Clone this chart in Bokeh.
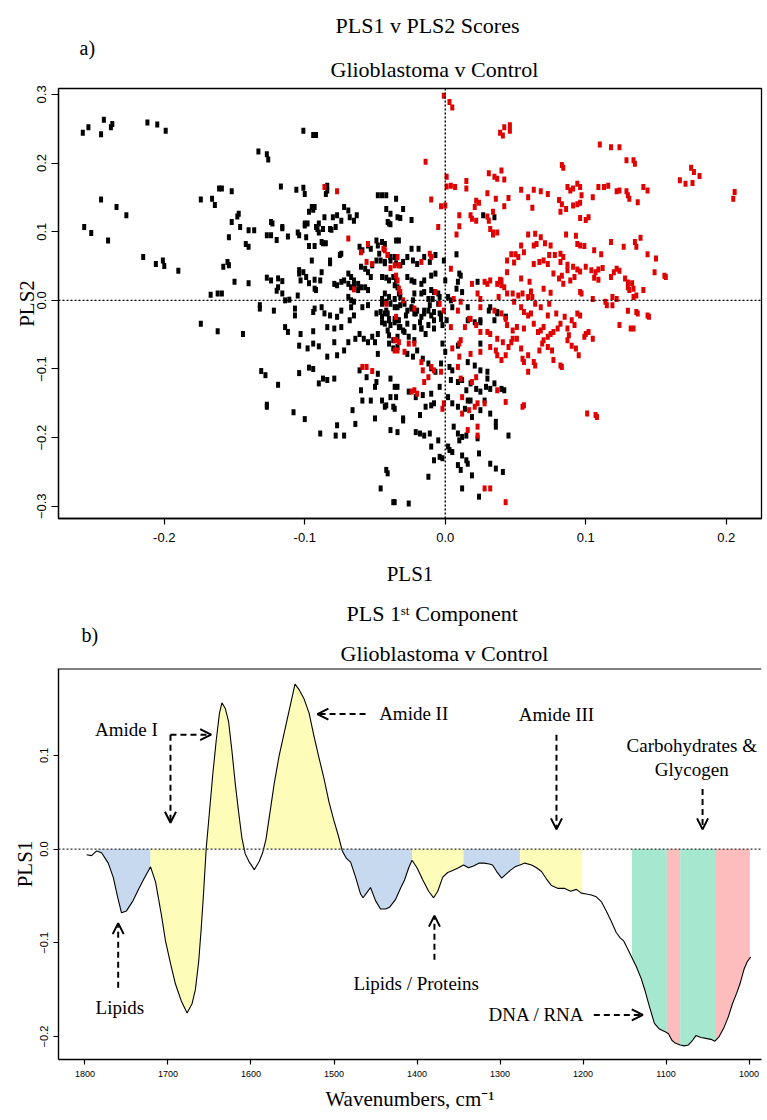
import math
import numpy as np
from bokeh.plotting import figure
from bokeh.layouts import column
from bokeh.models import Range1d, FixedTicker, Span, Label, Arrow, OpenHead, Title
from bokeh.embed import file_html
from bokeh.resources import INLINE

SERIF = "Liberation Serif"
SANS = "Liberation Sans"

# ---------------- panel a : PLS1 v PLS2 scores ----------------
glioblastoma_pts = [
    (-0.258,0.244),(-0.254,0.252),(-0.245,0.242),(-0.243,0.263),(-0.238,0.252),(-0.237,0.257),
    (-0.257,0.107),(-0.252,0.098),(-0.245,0.147),(-0.234,0.136),(-0.227,0.124),(-0.240,0.087),
    (-0.212,0.259),(-0.205,0.256),(-0.199,0.247),(-0.215,0.063),(-0.206,0.053),(-0.201,0.058),
    (-0.200,0.050),(-0.190,0.043),(-0.174,0.147),(-0.166,0.148),(-0.164,0.139),(-0.161,0.163),
    (-0.159,0.163),(-0.152,0.159),(-0.167,0.008),(-0.162,0.010),(-0.159,0.010),(-0.154,0.092),
    (-0.152,0.114),(-0.148,0.122),(-0.147,0.126),(-0.146,0.107),(-0.140,0.102),(-0.136,0.102),
    (-0.158,0.049),(-0.155,0.056),(-0.154,0.051),(-0.150,0.027),(-0.140,0.025),(-0.142,0.082),
    (-0.140,0.078),(-0.133,0.217),(-0.127,0.213),(-0.126,0.205),(-0.117,0.166),(-0.106,0.161),
    (-0.101,0.164),(-0.101,0.247),(-0.094,0.241),(-0.092,0.241),(-0.127,0.095),(-0.124,0.095),
    (-0.124,0.114),(-0.123,0.112),(-0.120,0.088),(-0.116,0.105),(-0.116,0.107),(-0.112,0.093),
    (-0.127,0.033),(-0.124,0.029),(-0.119,0.032),(-0.116,0.028),(-0.119,0.019),(-0.120,0.014),
    (-0.116,0.010),(-0.114,0.000),(-0.111,0.001),(-0.132,-0.007),(-0.105,0.099),(-0.104,0.095),
    (-0.100,0.109),(-0.100,0.155),(-0.100,0.112),(-0.099,0.092),(-0.098,0.112),(-0.097,0.079),
    (-0.097,0.129),(-0.095,0.136),(-0.094,0.132),(-0.093,0.136),(-0.093,0.079),(-0.092,0.107),
    (-0.091,0.104),(-0.090,0.112),(-0.090,0.099),(-0.088,0.085),(-0.087,0.083),(-0.085,0.083),
    (-0.086,0.121),(-0.085,0.155),(-0.084,0.167),(-0.084,0.160),(-0.104,0.044),(-0.104,0.039),
    (-0.103,0.029),(-0.101,0.041),(-0.099,0.034),(-0.097,0.025),(-0.095,0.058),(-0.093,0.017),
    (-0.092,0.015),(-0.093,0.030),(-0.089,0.029),(-0.088,0.041),(-0.107,-0.012),(-0.105,0.007),
    (-0.087,0.104),(-0.082,0.104),(-0.081,0.103),(-0.080,0.121),(-0.078,0.107),(-0.077,0.124),
    (-0.074,0.116),(-0.072,0.136),(-0.069,0.131),(-0.068,0.121),(-0.065,0.116),(-0.063,0.124),
    (-0.061,0.078),(-0.059,0.073),(-0.082,0.058),(-0.082,0.054),(-0.075,0.066),(-0.074,0.068),
    (-0.069,0.039),(-0.067,0.034),(-0.065,0.029),(-0.062,0.024),(-0.060,0.049),(-0.057,0.046),
    (-0.055,0.041),(-0.053,0.034),(-0.052,0.051),(-0.049,0.058),(-0.046,0.058),(-0.043,0.056),
    (-0.079,0.024),(-0.077,0.022),(-0.074,0.027),(-0.072,0.029),(-0.069,0.024),(-0.067,0.019),
    (-0.065,0.022),(-0.062,0.015),(-0.060,0.019),(-0.057,0.019),(-0.055,0.015),(-0.069,0.005),
    (-0.067,0.000),(-0.065,-0.002),(-0.048,0.153),(-0.045,0.153),(-0.042,0.133),(-0.041,0.114),
    (-0.040,0.112),(-0.039,0.126),(-0.034,0.121),(-0.035,0.087),(-0.033,0.087),(-0.049,0.087),
    (-0.045,0.085),(-0.048,0.080),(-0.055,0.080),(-0.053,0.075),(-0.047,0.068),(-0.043,0.054),
    (-0.039,0.063),(-0.037,0.034),(-0.035,0.029),(-0.034,0.019),(-0.033,0.010),(-0.032,0.005),
    (-0.042,0.153),(-0.035,0.148),(-0.030,0.133),(-0.032,0.120),(-0.024,0.117),(-0.039,0.111),
    (-0.043,0.082),(-0.019,0.075),(-0.024,0.075),(-0.015,0.063),(-0.011,0.056),(-0.023,0.058),
    (-0.027,0.063),(-0.030,0.056),(-0.032,0.051),(-0.020,0.053),(-0.035,0.054),(-0.039,0.058),
    (-0.036,0.063),(-0.041,0.066),(-0.007,0.066),(-0.001,0.058),(0.008,0.067),(0.010,0.039),
    (0.011,0.036),(0.009,0.027),(0.012,0.012),(0.008,0.017),(-0.045,0.034),(-0.042,0.033),
    (-0.040,0.029),(-0.036,0.022),(-0.027,0.034),(-0.024,0.029),(-0.022,0.027),
    (-0.017,0.024),(-0.015,0.029),(-0.010,0.036),(-0.007,0.039),(0.000,0.029),(-0.017,0.010),
    (-0.015,0.012),(-0.010,0.015),(-0.008,0.012),(-0.005,0.010),(-0.004,0.005),(-0.009,0.002),
    (-0.012,0.002),(-0.022,0.010),(-0.023,0.000),(-0.036,0.002),(-0.040,0.005),(-0.043,0.010),
    (-0.045,0.002),(-0.042,-0.002),(-0.039,-0.005),(-0.034,-0.010),(-0.029,-0.005),(-0.027,-0.015),
    (-0.024,-0.010),(-0.022,-0.019),(-0.020,-0.015),(-0.017,-0.024),(-0.015,-0.019),(-0.012,-0.015),
    (-0.010,-0.022),(-0.008,-0.029),(-0.004,-0.019),(-0.003,-0.027),(-0.002,-0.036),(0.001,-0.029),
    (0.004,0.000),(0.002,0.005),(0.005,-0.010),(0.016,-0.010),(0.023,0.027),(0.025,-0.029),
    (0.031,-0.015),(0.035,-0.029),(0.037,-0.019),(0.043,-0.024),(-0.045,-0.024),(-0.041,-0.019),
    (-0.036,-0.027),(-0.033,-0.029),(-0.032,-0.039),(-0.027,-0.034),(-0.022,-0.039),(-0.017,-0.041),
    (-0.012,-0.036),(-0.008,-0.041),(-0.039,-0.036),(-0.043,-0.034),(0.027,0.124),(0.035,0.121),
    (-0.174,-0.034),(-0.162,-0.045),(-0.144,-0.049),(-0.132,-0.012),(-0.122,-0.015),(-0.131,-0.103),
    (-0.128,-0.109),(-0.119,-0.123),(-0.127,-0.152),(-0.127,-0.155),(-0.108,-0.163),(-0.100,-0.173),
    (-0.104,-0.106),(-0.097,-0.098),(-0.094,-0.100),(-0.089,-0.194),(-0.078,-0.197),(-0.072,-0.197),
    (-0.077,-0.182),(-0.064,-0.180),(-0.050,-0.172),(-0.042,-0.247),(-0.041,-0.252),(-0.046,-0.274),
    (-0.037,-0.294),(-0.114,-0.039),(-0.112,-0.046),(-0.107,-0.022),(-0.104,-0.066),(-0.103,-0.049),
    (-0.098,-0.070),(-0.094,-0.045),(-0.094,-0.063),(-0.090,-0.067),(-0.087,-0.114),(-0.084,-0.116),
    (-0.079,-0.114),(-0.090,-0.121),(-0.084,-0.082),(-0.079,-0.061),(-0.077,-0.080),(-0.072,-0.073),
    (-0.069,-0.061),(-0.066,-0.160),(-0.060,-0.131),(-0.059,-0.146),(-0.053,-0.146),(-0.050,-0.126),
    (-0.049,-0.119),(-0.048,-0.078),(-0.045,-0.146),(-0.043,-0.155),(-0.040,-0.051),(-0.039,-0.114),
    (-0.037,-0.155),(-0.036,-0.126),(-0.061,-0.102),(-0.056,-0.112),(-0.055,-0.061),(-0.050,-0.061),
    (-0.052,-0.053),(-0.048,-0.049),(-0.061,-0.049),(-0.058,-0.056),(-0.064,-0.056),(-0.068,-0.029),
    (-0.074,-0.039),(-0.079,-0.041),(-0.084,-0.039),(-0.088,-0.010),(-0.093,-0.012),(-0.094,-0.017),
    (-0.086,-0.019),(-0.082,-0.022),(-0.077,-0.024),(-0.074,-0.015),(-0.067,-0.010),(-0.065,-0.022),
    (-0.059,-0.010),(-0.055,-0.007),(-0.049,-0.019),(-0.046,-0.017),(-0.040,-0.063),(-0.037,-0.070),
    (-0.034,-0.053),(-0.034,-0.029),(-0.040,-0.029),(-0.048,-0.107),(-0.039,-0.141),
    (-0.045,-0.005),(-0.042,-0.015),(-0.036,-0.010),(-0.032,-0.007),(-0.028,-0.022),(-0.024,-0.012),
    (-0.021,-0.019),(-0.018,-0.032),(-0.015,-0.015),(-0.011,-0.007),(-0.008,-0.017),(-0.005,-0.005),
    (-0.003,-0.022),(-0.017,-0.041),(-0.014,-0.049),(-0.022,-0.058),(-0.026,-0.053),(-0.029,-0.046),
    (-0.033,-0.039),(-0.036,-0.032),(-0.040,-0.027),(-0.043,-0.019),(-0.045,-0.032),(-0.041,-0.044),
    (-0.037,-0.058),(-0.034,-0.068),(-0.030,-0.044),(-0.027,-0.078),(-0.023,-0.082),(-0.020,-0.073),
    (-0.016,-0.085),(-0.012,-0.092),(-0.010,-0.099),(-0.007,-0.104),(-0.003,-0.092),(-0.002,-0.063),
    (0.000,-0.075),(0.003,-0.097),(0.005,-0.102),(0.009,-0.066),(0.016,-0.029),(0.021,-0.032),
    (0.025,-0.032),(0.032,-0.010),(0.037,-0.017),(0.043,-0.024),(0.025,-0.063),(0.016,-0.090),
    (0.021,-0.095),(0.025,-0.102),(0.030,-0.114),(0.030,-0.104),(0.035,-0.121),(0.040,-0.129),
    (0.042,-0.131),(0.004,-0.116),(0.009,-0.119),(0.012,-0.116),(0.015,-0.131),(0.018,-0.121),
    (0.022,-0.129),(0.025,-0.133),(0.029,-0.126),(0.032,-0.129),(0.028,-0.146),(0.018,-0.146),
    (0.016,-0.146),(0.014,-0.158),(0.009,-0.155),(0.005,-0.150),(0.002,-0.141),(-0.004,-0.126),
    (-0.010,-0.136),(-0.016,-0.138),(-0.021,-0.141),(-0.026,-0.133),(-0.034,-0.126),(-0.035,-0.141),
    (-0.042,-0.153),(-0.036,-0.158),(-0.030,-0.172),(-0.018,-0.167),(-0.014,-0.155),(-0.010,-0.153),
    (-0.008,-0.150),(-0.005,-0.204),(-0.010,-0.213),(-0.004,-0.228),(0.002,-0.213),(0.003,-0.218),
    (0.005,-0.221),(0.009,-0.194),(0.010,-0.204),(0.012,-0.199),(0.015,-0.197),(0.006,-0.184),
    (0.019,-0.170),(0.023,-0.201),(0.025,-0.160),(0.032,-0.165),(0.036,-0.177),(0.036,-0.184),
    (0.045,-0.197),(0.012,-0.226),(0.015,-0.233),(0.016,-0.238),(0.024,-0.223),(0.032,-0.238),
    (0.036,-0.245),(0.041,-0.250),(0.019,-0.255),(0.012,-0.274),(0.009,-0.240),(0.011,-0.247),
    (0.024,-0.286),(-0.012,-0.257),(-0.008,-0.233),(-0.002,-0.230),(-0.021,-0.192),(-0.018,-0.194),
    (-0.015,-0.197),(-0.011,-0.194),(-0.039,-0.189),(-0.034,-0.192),(-0.030,-0.175),(-0.036,-0.294),
    (-0.026,-0.296),
]

control_pts = [
    (-0.001,0.298),(0.003,0.289),(0.005,0.281),(-0.014,0.202),(0.039,0.244),(0.042,0.252),
    (0.041,0.240),(0.046,0.255),(0.046,0.247),(0.110,0.227),(0.118,0.223),(0.124,0.223),
    (0.129,0.204),(0.134,0.204),(0.135,0.199),(0.083,0.197),(0.084,0.193),(0.167,0.175),
    (0.171,0.170),(0.176,0.171),(0.175,0.193),(0.177,0.187),(0.181,0.181),(0.206,0.158),
    (0.205,0.148),(0.031,0.185),(0.035,0.180),(0.037,0.177),(0.040,0.189),(0.042,0.176),
    (0.015,0.174),(0.015,0.163),(0.001,0.180),(0.001,0.166),(0.004,0.167),(0.007,0.165),
    (-0.010,0.147),(-0.003,0.137),(0.000,0.138),(0.010,0.124),(0.010,0.108),(0.008,0.096),
    (-0.005,0.107),(0.030,0.156),(0.036,0.148),(0.045,0.149),(0.042,0.137),(0.022,0.145),
    (0.024,0.142),(0.021,0.136),(0.018,0.124),(0.019,0.119),(0.022,0.116),(0.030,0.122),
    (0.031,0.116),(0.034,0.129),(0.032,0.104),(0.034,0.099),(0.037,0.099),(0.034,0.096),
    (0.054,0.161),(0.059,0.150),(0.063,0.161),(0.068,0.159),(0.073,0.155),(0.062,0.135),
    (0.081,0.146),(0.083,0.140),(0.082,0.129),(0.086,0.133),(0.087,0.165),(0.089,0.160),
    (0.091,0.163),(0.094,0.170),(0.096,0.165),(0.097,0.153),(0.091,0.138),(0.094,0.140),
    (0.096,0.142),(0.096,0.120),(0.100,0.117),(0.102,0.121),(0.105,0.150),(0.109,0.165),
    (0.113,0.165),(0.116,0.167),(0.122,0.159),(0.124,0.160),(0.129,0.159),(0.130,0.153),
    (0.131,0.148),(0.137,0.143),(0.141,0.165),(0.144,0.160),
    (0.059,0.096),(0.064,0.097),(0.068,0.092),(0.054,0.080),(0.065,0.082),(0.063,0.080),
    (0.071,0.083),(0.075,0.080),(0.078,0.066),(0.082,0.068),(0.084,0.063),(0.086,0.096),
    (0.093,0.094),(0.094,0.082),(0.096,0.080),(0.099,0.079),(0.106,0.073),(0.111,0.067),
    (0.118,0.085),(0.127,0.078),(0.135,0.085),(0.139,0.091),(0.136,0.078),(0.144,0.067),
    (0.150,0.061),(0.149,0.041),(0.156,0.036),(0.157,0.034),(0.044,0.058),(0.047,0.067),
    (0.050,0.067),(0.049,0.055),(0.052,0.063),(0.056,0.070),(0.063,0.053),(0.067,0.056),
    (0.070,0.058),(0.073,0.053),(0.074,0.066),(0.082,0.056),(0.087,0.044),(0.083,0.036),
    (0.087,0.052),(0.091,0.049),(0.094,0.045),(0.096,0.042),(0.100,0.049),(0.104,0.044),
    (0.107,0.041),(0.109,0.045),(0.112,0.047),(0.120,0.041),(0.122,0.046),(0.124,0.043),
    (0.106,0.033),(0.109,0.030),(0.118,0.034),(0.128,0.032),(0.130,0.019),(0.133,0.025),
    (0.134,0.017),(0.131,0.015),(0.141,0.015),(0.130,0.026),(0.044,0.041),(0.039,0.027),
    (0.040,0.022),(0.039,0.030),(0.042,0.019),(0.048,0.010),(0.052,0.007),(0.055,0.010),
    (0.059,0.005),(0.062,0.005),(0.054,0.032),(0.060,0.027),(0.061,0.013),(0.070,0.017),
    (0.075,0.011),(0.077,0.039),(0.081,0.032),(0.084,0.024),(0.089,0.029),(0.092,0.034),
    (0.096,0.012),(0.097,0.010),(0.105,0.002),(0.114,-0.002),(0.119,0.005),(0.122,0.002),
    (0.134,0.005),(0.136,0.007),
    (-0.044,0.075),(-0.034,0.063),(-0.033,0.051),(-0.039,0.047),(-0.017,0.056),(-0.011,0.068),
    (-0.032,0.012),(-0.030,0.000),(-0.022,-0.012),(-0.007,0.012),(-0.010,0.063),(0.004,0.046),
    (0.011,-0.002),(0.006,0.002),(-0.004,-0.005),(-0.001,-0.015),(0.009,-0.015),(0.017,-0.027),
    (0.019,0.024),(0.023,0.010),(0.025,0.002),(0.028,0.027),(0.030,0.024),(0.032,0.029),
    (0.037,0.024),(0.038,0.005),(0.040,0.029),(0.044,0.010),
    (-0.086,0.165),(-0.077,0.159),(-0.069,0.090),(-0.060,0.070),(-0.055,0.082),(-0.043,0.073),
    (-0.041,0.066),(-0.056,0.056),(-0.052,0.053),(-0.065,0.016),(-0.036,0.051),(-0.035,0.036),
    (-0.034,0.029),(-0.033,0.017),
    (-0.059,-0.097),(-0.056,-0.097),(-0.052,-0.103),(-0.042,-0.005),(-0.036,-0.058),(-0.034,-0.073),
    (-0.035,-0.024),
    (0.018,-0.027),(0.022,-0.036),(0.025,-0.046),(0.030,-0.046),(0.032,-0.049),(0.011,-0.058),
    (0.010,-0.063),(0.018,-0.078),(0.025,-0.075),(0.032,-0.068),(0.036,-0.073),(0.037,-0.080),
    (0.040,-0.087),(0.043,-0.080),(0.045,-0.068),(0.047,-0.061),(0.048,-0.056),(0.051,-0.056),
    (0.054,-0.070),(0.055,-0.085),(0.056,-0.090),(0.059,-0.080),(0.059,-0.104),(0.063,-0.090),
    (0.064,-0.095),(0.067,-0.073),(0.069,-0.063),(0.070,-0.058),(0.073,-0.068),(0.076,-0.073),
    (0.077,-0.087),(0.082,-0.095),(0.083,-0.097),(0.087,-0.058),(0.088,-0.051),(0.090,-0.066),
    (0.093,-0.070),(0.095,-0.080),(0.063,-0.034),(0.066,-0.046),(0.068,-0.044),(0.070,-0.039),
    (0.073,-0.053),(0.075,-0.049),(0.077,-0.046),(0.080,-0.041),(0.082,-0.034),(0.085,-0.024),
    (0.087,-0.041),(0.090,-0.029),(0.092,-0.036),(0.094,-0.019),(0.096,-0.022),(0.099,-0.053),
    (0.100,-0.049),(0.102,-0.046),(0.105,-0.056),(0.049,-0.002),(0.054,-0.010),(0.056,-0.017),
    (0.059,-0.022),(0.061,-0.019),(0.064,-0.005),(0.068,-0.010),(0.073,-0.022),(0.074,-0.005),
    (0.079,-0.019),(0.115,-0.007),(0.119,-0.007),(0.124,-0.036),(0.130,-0.015),(0.132,-0.041),
    (0.134,-0.041),(0.136,-0.017),(0.137,-0.019),(0.144,-0.022),(0.145,-0.024),(0.044,-0.036),
    (0.048,-0.044),(0.051,-0.039),(0.056,-0.041),(0.037,-0.056),(0.041,-0.061),(0.035,-0.015),
    (0.040,-0.019),(0.043,-0.027),(0.025,-0.010),(0.014,-0.039),(0.004,-0.039),(0.005,-0.070),
    (0.010,-0.082),(0.009,-0.097),(0.011,-0.114),(0.019,-0.119),(0.022,-0.112),(0.012,-0.141),
    (0.017,-0.160),(0.021,-0.155),(0.023,-0.150),(0.028,-0.150),(0.037,-0.131),(0.043,-0.148),
    (0.056,-0.153),(0.055,-0.155),(0.101,-0.165),(0.107,-0.167),(0.108,-0.170),(-0.002,-0.158),
    (-0.001,-0.150),(0.012,-0.165),(0.023,-0.184),(0.023,-0.197),(0.016,-0.189),(0.028,-0.274),
    (0.032,-0.274),(0.043,-0.294),(-0.012,-0.112),(-0.008,-0.102),(-0.003,-0.104),(-0.017,-0.090),
    (-0.016,-0.102),(-0.022,-0.063),(-0.026,-0.063),(-0.029,-0.075),(-0.033,-0.061),(-0.035,-0.058),
    (-0.036,-0.073),(-0.024,-0.133),(-0.022,-0.131),(-0.020,-0.136),(-0.015,-0.119),(-0.010,-0.097),
]

a_x_ticks = [-0.2, -0.1, 0.0, 0.1, 0.2]
a_x_labels = ["-0.2", "-0.1", "0.0", "0.1", "0.2"]
a_y_ticks = [-0.3, -0.2, -0.1, 0.0, 0.1, 0.2, 0.3]
a_y_labels = ["\u22120.3", "\u22120.2", "\u22120.1", "0.0", "0.1", "0.2", "0.3"]

# ---------------- panel b : PLS 1st component loading ----------------
wavenumber = [1798,1792,1786,1780,1772,1766,1761,1756,1750,1742,1735,1728,1721,1715,1708,1703,
              1697,1691,1684,1677,1671,1667,1663,1660,1657,1654,1650,1646,1642,1638,1635,1631,
              1627,1623,1619,1615,1611,1607,1602,1596,1590,1586,1582,1577,1572,1566,1561,1556,
              1551,1547,1542,1536,1530,1524,1518,1512,1506,1500,1495,1490,1485,1480,1474,1468,
              1465,1460,1456,1450,1444,1438,1433,1426,1420,1415,1410,1406,1400,1393,1386,1380,
              1375,1369,1363,1357,1350,1344,1338,1332,1325,1319,1313,1309,1304,1298,1293,1288,
              1282,1276,1270,1262,1256,1250,1244,1238,1230,1222,1215,1208,1202,1196,1190,1184,
              1178,1172,1166,1160,1155,1151,1146,1141,1136,1130,1125,1120,1114,1108,1101,1097,
              1093,1089,1083,1078,1073,1068,1064,1058,1052,1046,1041,1036,1030,1025,1020,1015,
              1011,1006,1002,998]
pls1_loading = [-0.006,-0.007,-0.002,-0.004,-0.015,-0.030,-0.050,-0.068,-0.066,-0.055,-0.042,-0.030,
                -0.019,-0.035,-0.070,-0.098,-0.122,-0.144,-0.162,-0.175,-0.165,-0.150,-0.120,-0.085,
                -0.045,0.000,0.040,0.080,0.115,0.145,0.156,0.150,0.136,0.105,0.070,0.040,0.012,
                -0.005,-0.014,-0.022,-0.013,-0.004,0.010,0.040,0.070,0.100,0.120,0.140,0.160,0.176,
                0.170,0.160,0.145,0.120,0.097,0.075,0.050,0.030,0.015,-0.002,-0.010,-0.014,-0.030,
                -0.048,-0.052,-0.046,-0.041,-0.055,-0.064,-0.064,-0.062,-0.054,-0.042,-0.033,-0.020,
                -0.012,-0.020,-0.033,-0.045,-0.052,-0.045,-0.030,-0.025,-0.023,-0.020,-0.017,-0.020,
                -0.018,-0.015,-0.015,-0.016,-0.017,-0.024,-0.031,-0.027,-0.023,-0.019,-0.017,-0.015,
                -0.017,-0.020,-0.024,-0.032,-0.039,-0.042,-0.042,-0.045,-0.043,-0.047,-0.048,-0.049,
                -0.051,-0.056,-0.066,-0.077,-0.089,-0.095,-0.098,-0.107,-0.116,-0.125,-0.138,-0.152,
                -0.168,-0.186,-0.192,-0.195,-0.197,-0.204,-0.207,-0.209,-0.210,-0.209,-0.204,-0.199,
                -0.201,-0.202,-0.203,-0.205,-0.200,-0.190,-0.179,-0.165,-0.154,-0.144,-0.128,-0.120,
                -0.115]

band_start = [1784, 1721, 1583, 1490, 1406, 1344, 1276, 1141, 1099, 1083, 1041]
band_end   = [1721, 1609, 1490, 1406, 1344, 1276, 1201, 1099, 1083, 1041, 999]
band_kind  = ["blue", "yellow", "yellow", "blue", "yellow", "blue", "yellow",
              "green", "red", "green", "red"]
band_colors = {"blue": "#c6d9ee", "yellow": "#fdfcb9", "green": "#a6e8cf", "red": "#fdbdbd"}

b_x_ticks = [1800, 1700, 1600, 1500, 1400, 1300, 1200, 1100, 1000]
b_y_ticks = [-0.2, -0.1, 0.0, 0.1]
b_y_labels = ["\u22120.2", "\u22120.1", "0.0", "0.1"]

# annotation texts (wavenumber, PLS1 value)
ann_text = ["Amide I", "Amide II", "Amide III", "Carbohydrates &", "Glycogen",
            "Lipids", "Lipids / Proteins", "DNA / RNA"]
ann_x = [1750, 1404, 1232, 1069, 1069, 1758, 1401, 1256]
ann_y = [0.127, 0.145, 0.144, 0.110, 0.085, -0.169, -0.143, -0.177]
# arrows: start (x, y) -> tip (x, y)
arrow_x0 = [1697, 1697, 1462, 1232, 1056, 1760, 1379, 1187]
arrow_y0 = [0.122, 0.122, 0.144, 0.122, 0.064, -0.148, -0.118, -0.177]
arrow_x1 = [1648, 1697, 1520, 1232, 1056, 1760, 1379, 1128]
arrow_y1 = [0.122, 0.028, 0.144, 0.021, 0.021, -0.079, -0.071, -0.177]


def add_title(p, text, size, align, offset, standoff):
    p.add_layout(Title(text=text, align=align, offset=offset, standoff=standoff,
                       text_font=SERIF, text_font_size=size, text_font_style="normal",
                       text_color="black"), "above")


# ======== figure a ========
p1 = figure(width=767, height=592, output_backend="svg", toolbar_location=None,
            x_range=Range1d(-0.2753, 0.2251), y_range=Range1d(-0.3178, 0.3086),
            min_border_left=57, min_border_right=6, min_border_top=88, min_border_bottom=74)
p1.grid.visible = False
p1.outline_line_color = "black"
p1.outline_line_width = 1.3
p1.background_fill_color = "white"
p1.border_fill_color = "white"

for ax in (p1.xaxis[0], p1.yaxis[0]):
    ax.axis_line_width = 1.3
    ax.major_tick_line_width = 1.2
    ax.minor_tick_line_color = None
    ax.major_tick_in = 0
    ax.axis_label_text_font = SERIF
    ax.axis_label_text_font_style = "normal"
    ax.axis_label_text_font_size = "21px"
    ax.axis_label_text_color = "black"
    ax.major_label_text_font = SANS
    ax.major_label_text_font_size = "13px"
    ax.major_label_text_color = "black"

p1.xaxis.ticker = FixedTicker(ticks=a_x_ticks)
p1.xaxis.major_label_overrides = dict(zip(a_x_ticks, a_x_labels))
p1.xaxis.major_tick_out = 6
p1.xaxis.major_label_standoff = 8
p1.xaxis.axis_label = "PLS1"
p1.xaxis.axis_label_standoff = 17

p1.yaxis.ticker = FixedTicker(ticks=a_y_ticks)
p1.yaxis.major_label_overrides = dict(zip(a_y_ticks, a_y_labels))
p1.yaxis.major_label_orientation = "parallel"
p1.yaxis.major_tick_out = 7
p1.yaxis.major_label_standoff = 5
p1.yaxis.axis_label = "PLS2"
p1.yaxis.axis_label_standoff = -4

gx = [pt[0] for pt in glioblastoma_pts]
gy = [pt[1] for pt in glioblastoma_pts]
cx = [pt[0] for pt in control_pts]
cy = [pt[1] for pt in control_pts]
p1.rect(gx, gy, width=4, height=6, width_units="screen", height_units="screen",
        fill_color="black", line_color=None)
p1.rect(cx, cy, width=4, height=6, width_units="screen", height_units="screen",
        fill_color="#e00000", line_color=None)

p1.add_layout(Span(location=0, dimension="width", line_dash="2 2", line_width=1.4, line_color="black"))
p1.add_layout(Span(location=0, dimension="height", line_dash="2 2", line_width=1.4, line_color="black"))

# titles: first added sits nearest the frame
add_title(p1, "Glioblastoma v Control", "22px", "left", 272, 14)
add_title(p1, "a)", "20px", "left", 21, -22)
add_title(p1, "PLS1 v PLS2 Scores", "22px", "left", 277, 16)

# ======== figure b ========
p2 = figure(width=767, height=528, output_backend="svg", toolbar_location=None,
            x_range=Range1d(1831.9, 985.0), y_range=Range1d(-0.2245, 0.1926),
            min_border_left=58, min_border_right=0, min_border_top=75, min_border_bottom=61)
p2.grid.visible = False
p2.outline_line_color = None
p2.background_fill_color = "white"
p2.border_fill_color = "white"

for ax in (p2.xaxis[0], p2.yaxis[0]):
    ax.axis_line_width = 1.4
    ax.major_tick_line_width = 1.2
    ax.minor_tick_line_color = None
    ax.major_tick_in = 0
    ax.major_tick_out = 5
    ax.axis_label_text_font = SERIF
    ax.axis_label_text_font_style = "normal"
    ax.axis_label_text_font_size = "21px"
    ax.axis_label_text_color = "black"
    ax.major_label_text_font = SANS
    ax.major_label_text_color = "black"

p2.xaxis.ticker = FixedTicker(ticks=b_x_ticks)
p2.xaxis.major_label_text_font_size = "9px"
p2.xaxis.major_label_standoff = 6
p2.xaxis.axis_label = "Wavenumbers, cm\u207b\u00b9"
p2.xaxis.axis_label_standoff = 7

p2.yaxis.ticker = FixedTicker(ticks=b_y_ticks)
p2.yaxis.major_label_overrides = dict(zip(b_y_ticks, b_y_labels))
p2.yaxis.major_label_orientation = "parallel"
p2.yaxis.major_label_text_font_size = "11px"
p2.yaxis.major_label_standoff = 5
p2.yaxis.axis_label = "PLS1"
p2.yaxis.axis_label_standoff = 1

wn = np.array(wavenumber, dtype=float)
ld = np.array(pls1_loading, dtype=float)
for w0, w1, kind in zip(band_start, band_end, band_kind):
    inner = wn[(wn < w0) & (wn > w1)]
    xs = np.concatenate([[w0], inner, [w1]])
    ys = np.interp(xs, wn[::-1], ld[::-1])
    p2.varea(x=xs, y1=np.zeros_like(xs), y2=ys, fill_color=band_colors[kind], fill_alpha=1.0)

p2.add_layout(Span(location=0, dimension="width", line_dash="2 2", line_width=1.2, line_color="#333333"))
p2.add_layout(Span(location=0.1926, dimension="width", line_width=2.0, line_color="black"))
p2.line(wn, ld, line_color="black", line_width=1.1)

for t, x, y in zip(ann_text, ann_x, ann_y):
    p2.add_layout(Label(x=x, y=y, text=t, text_font=SERIF, text_font_size="19px",
                        text_align="center", text_baseline="middle", text_color="black"))

for x0, y0, x1, y1 in zip(arrow_x0, arrow_y0, arrow_x1, arrow_y1):
    p2.add_layout(Arrow(x_start=x0, y_start=y0, x_end=x1, y_end=y1,
                        line_width=2, line_dash="6 4", line_color="black",
                        end=OpenHead(size=11, line_width=2, line_color="black")))

add_title(p2, "Glioblastoma v Control", "22px", "left", 282, 6)
add_title(p2, "b)", "20px", "left", 23, -20)
add_title(p2, "PLS 1\u02e2\u1d57 Component", "22px", "left", 288, 12)

layout = column(p1, p2, spacing=0)
open("out.html", "w").write(file_html(layout, INLINE))
